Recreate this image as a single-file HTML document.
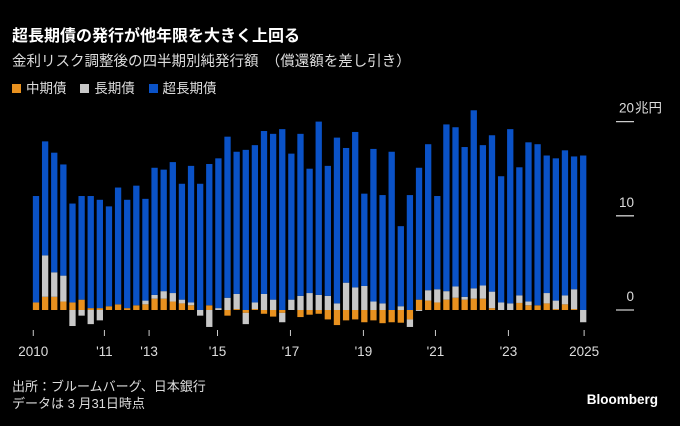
<!DOCTYPE html>
<html><head><meta charset="utf-8"><style>
html,body{margin:0;padding:0;background:#000;}
body{width:680px;height:426px;overflow:hidden;position:relative;font-family:"Liberation Sans","Noto Sans CJK JP",sans-serif;color:#fff;}
.t{position:absolute;white-space:nowrap;}
</style></head><body>
<div class="t" style="left:12px;top:22px;font-size:16px;font-weight:bold;">超長期債の発行が他年限を大きく上回る</div>
<div class="t" style="left:12px;top:50px;font-size:14.5px;color:#ddd;">金利リスク調整後の四半期別純発行額　（償還額を差し引き）</div>
<div class="t" style="left:12px;top:77px;font-size:13.5px;color:#ddd;">
<span><span style="display:inline-block;width:9px;height:9px;background:#e8911f;margin-right:5px"></span>中期債</span>
<span style="margin-left:10px"><span style="display:inline-block;width:9px;height:9px;background:#c8c8c8;margin-right:5px"></span>長期債</span>
<span style="margin-left:10px"><span style="display:inline-block;width:9px;height:9px;background:#0a52c7;margin-right:5px"></span>超長期債</span>
</div>
<svg id="chart" width="680" height="426" style="position:absolute;left:0;top:0"></svg>
<div class="t" style="left:12px;top:378px;font-size:13px;color:#ddd;line-height:17px;">出所：ブルームバーグ、日本銀行<br>データは 3 月31日時点</div>
<div class="t" style="right:22px;top:392px;font-size:13.5px;font-weight:bold;">Bloomberg</div>
<script>
const medium=[0.8,1.4,1.4,0.9,0.8,1.1,0.2,0.2,0.4,0.6,0.2,0.5,0.6,1.2,1.2,0.9,0.7,0.5,0,0.5,0,-0.6,0.1,-0.3,0.1,-0.4,-0.7,-0.3,0,-0.75,-0.5,-0.4,-1.0,-1.6,-1.1,-1.0,-1.3,-1.1,-1.4,-1.3,-1.35,-1.0,1.1,1.0,0.8,1.1,1.3,1.1,1.2,1.2,0.2,0,0,0.75,0.5,0.5,0.7,0.1,0.6,0.1,0];
const longB=[0,4.4,2.6,2.75,-1.7,-0.6,-1.5,-1.1,0,0,0,0,0.4,0.4,0.8,0.9,0.4,0.3,-0.6,-1.8,0.2,1.3,1.6,-1.2,0.7,1.7,1.1,-1.0,1.1,1.5,1.8,1.6,1.5,0.7,2.9,2.4,2.55,0.9,0.7,0,0.4,-0.8,-0.1,1.1,1.4,0.9,1.2,0.3,1.1,1.4,1.75,0.8,0.7,0.8,0.4,0,1.1,0.9,0.95,2.1,-1.3];
const superLong=[11.3,12.1,12.7,11.8,10.5,11.0,11.9,11.5,10.6,12.4,11.5,12.7,10.8,13.5,12.9,13.9,12.3,14.5,13.4,15.0,15.9,17.1,15.1,17.0,16.7,17.3,17.6,19.2,15.5,17.2,13.2,18.4,13.8,17.6,14.3,16.5,9.8,16.2,11.5,16.8,8.5,12.2,14.0,15.5,9.9,17.7,16.9,15.9,18.9,14.9,16.6,13.4,18.5,13.6,16.9,17.1,14.6,15.1,15.4,14.1,16.4];
const tickLabels=["2010","'11","'13","'15","'17","'19","'21","'23","2025"];
const tickIdx=[-0.3,7.5,12.4,19.9,27.9,35.9,43.8,51.8,60.1];
const yTicks=[0,10,20];
const svg=document.getElementById('chart');
const NS='http://www.w3.org/2000/svg';
const x0=36,step=9.12,bw=6.3;
const X=i=>x0+i*step;
const Y=v=>310-v*9.42;
function el(t,a){const e=document.createElementNS(NS,t);for(const k in a)e.setAttribute(k,a[k]);svg.appendChild(e);return e;}
function seg(i,a,b,col,name){const y1=Y(Math.max(a,b)),y2=Y(Math.min(a,b));if(y2-y1<=0)return;
const r=el('rect',{x:X(i)-bw/2,y:y1,width:bw,height:y2-y1,fill:col});

}
for(let i=0;i<superLong.length;i++){
 let pos=0,neg=0;
 const parts=[[medium[i],'#e8911f','bar-medium'],[longB[i],'#c8c8c8','bar-long'],[superLong[i],'#0a52c7','bar-superlong']];
 for(const [v,c,n] of parts){
  if(v>=0){seg(i,pos,pos+v,c,n);pos+=v;}else{seg(i,neg,neg+v,c,n);neg+=v;}
 }
}
yTicks.forEach((v,k)=>{
 const l=el('line',{x1:616,x2:634,y1:Y(v),y2:Y(v),stroke:'#ccc','stroke-width':1.3});
 
 
 const t=el('text',{x:634,y:Y(v)-9,'text-anchor':'end',fill:'#ddd','font-size':'13.5'});
 t.textContent=v;
 
 
 if(v===20){const u=el('text',{x:635,y:Y(v)-9,fill:'#ddd','font-size':'13.5'});u.textContent='兆円';
 
 }
});
tickLabels.forEach((lab,k)=>{
 const x=X(tickIdx[k]);
 const l=el('line',{x1:x,x2:x,y1:330,y2:336,stroke:'#ccc','stroke-width':1});
 
 
 const t=el('text',{x:x,y:356,'text-anchor':'middle',fill:'#ddd','font-size':'13.5'});
 t.textContent=lab;
 
 
});
</script>
</body></html>
